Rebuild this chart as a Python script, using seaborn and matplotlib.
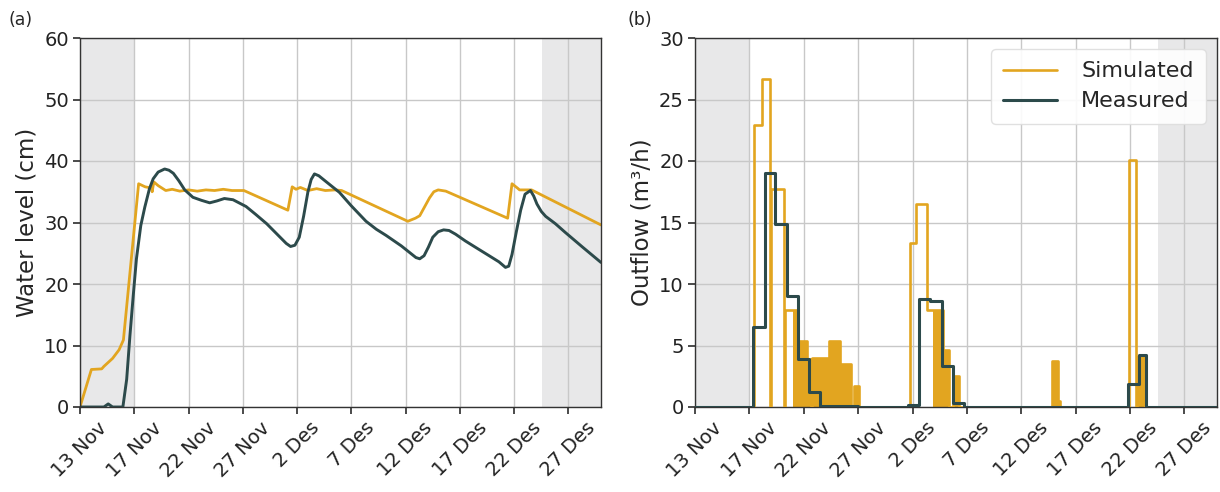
import numpy as np
import pandas as pd
import matplotlib
matplotlib.use("Agg")
import matplotlib.pyplot as plt
import seaborn as sns

# ---- axis labels -----------------------------------------------------------
tick_days = [0, 5, 10, 15, 20, 25, 30, 35, 40, 45]
tick_labels = ["13 Nov", "17 Nov", "22 Nov", "27 Nov", "2 Des",
               "7 Des", "12 Des", "17 Des", "22 Des", "27 Des"]
day_max = 48.0
spinup_end = 5.0          # grey band at the start
spindown_start = 42.6     # grey band at the end

# ---- (a) water level, simulated ------------------------------------------
sim_level_day = [0, 1.05, 2.0, 2.2, 3.0, 3.6, 4.0, 5.4, 6.0, 6.6, 6.65, 6.8,
                 7.2, 7.9, 8.5, 9.2, 10.0, 10.8, 11.6, 12.4, 13.2, 14.0, 15.1,
                 19.15, 19.55, 19.9, 20.3, 21.0, 21.8, 22.6, 23.5, 24.1,
                 30.2, 30.9, 31.3, 32.2, 32.6, 33.0, 33.7, 39.4, 39.8, 40.3,
                 40.5, 41.6, 48.0]
sim_level = [0, 6.1, 6.2, 6.6, 7.9, 9.3, 10.9, 36.3, 35.8, 35.6, 35.0, 36.6,
             36.0, 35.2, 35.4, 35.1, 35.3, 35.1, 35.3, 35.2, 35.4, 35.2, 35.2,
             32.0, 35.8, 35.4, 35.7, 35.2, 35.5, 35.2, 35.3, 35.2,
             30.2, 30.7, 31.1, 34.0, 35.0, 35.3, 35.1, 30.7, 36.3, 35.6,
             35.3, 35.3, 29.6]

# ---- (a) water level, measured -------------------------------------------
meas_level_day = [0, 2.2, 2.6, 3.0, 3.95, 4.3, 4.6, 4.9, 5.2, 5.6, 5.97, 6.4,
                  6.74, 7.2, 7.8, 8.2, 8.6, 9.1, 9.65, 10.4, 11.2, 11.95, 12.6,
                  13.3, 14.1, 15.3, 16.2, 17.2, 18.1, 19.0, 19.4, 19.8, 20.2,
                  20.6, 21.0, 21.3, 21.6, 22.0, 22.7, 23.9, 25.0, 26.35, 27.3,
                  28.2, 29.6, 30.95, 31.3, 31.7, 32.1, 32.5, 33.0, 33.5, 34.0,
                  34.6, 35.5, 36.5, 37.6, 38.6, 39.2, 39.5, 39.8, 40.2, 40.6,
                  41.0, 41.5, 41.8, 42.1, 42.5, 42.9, 43.8, 44.7, 46.3, 48.0]
meas_level = [0, 0, 0.5, 0, 0, 4.5, 11.6, 18.0, 24.1, 29.5, 32.5, 35.5,
              37.1, 38.2, 38.7, 38.5, 38.0, 36.8, 35.3, 34.1, 33.6, 33.2, 33.5,
              33.9, 33.7, 32.6, 31.3, 29.8, 28.2, 26.6, 26.1, 26.3, 27.6,
              31.0, 35.0, 37.0, 37.9, 37.6, 36.6, 34.9, 32.7, 30.2, 28.9,
              27.9, 26.2, 24.3, 24.1, 24.6, 26.0, 27.6, 28.5, 28.8, 28.7,
              28.1, 27.0, 25.9, 24.7, 23.6, 22.7, 22.9, 24.8, 28.5, 32.0,
              34.6, 35.2, 34.3, 33.0, 31.8, 31.0, 29.8, 28.4, 26.0, 23.5]

# ---- (b) outflow, simulated blocks (start, end, rate, pulsed) ------------
sim_start = [5.43, 6.15, 7.0, 8.25, 9.05, 9.35, 10.3, 10.75, 12.3, 13.35,
             14.6, 19.8, 20.35, 21.3, 21.9, 22.8, 23.7, 32.85, 33.4, 39.9,
             40.65]
sim_end = [6.15, 6.93, 8.2, 9.05, 9.35, 10.3, 10.7, 12.3, 13.35, 14.3,
           15.1, 20.35, 21.3, 21.9, 22.8, 23.4, 24.3, 33.4, 33.55, 40.55,
           41.4]
sim_rate = [22.9, 26.7, 17.7, 7.9, 7.9, 5.4, 3.9, 4.0, 5.4, 3.5,
            1.7, 13.3, 16.5, 7.9, 7.9, 4.6, 2.5, 3.7, 0.5, 20.1,
            4.1]
sim_pulsed = [False, False, False, False, True, True, True, True, True, True,
              True, False, False, False, True, True, True, True, True, False,
              True]

# ---- (b) outflow, measured step series -----------------------------------
meas_flow_day = [0, 5.35, 6.4, 7.4, 8.45, 9.45, 10.5, 11.5, 15.0, 19.6, 20.6,
                 21.6, 22.7, 23.75, 24.7, 39.8, 40.8, 41.5, 48.0]
meas_flow = [0, 6.5, 19.0, 14.9, 9.0, 3.9, 1.2, 0.1, 0, 0.2, 8.8,
             8.6, 3.3, 0.3, 0, 1.9, 4.2, 0, 0]

GOLD = "#E2A520"
DARK = "#2C4A4B"
SHADE = "#E8E8E9"

sns.set_theme(style="whitegrid")
plt.rcParams.update({
    "font.family": ["DejaVu Sans"],
    "axes.edgecolor": "#333333",
    "axes.linewidth": 1.0,
    "grid.color": "#c8c8c8",
    "grid.linewidth": 1.0,
    "xtick.bottom": True,
    "ytick.left": True,
    "xtick.major.size": 5,
    "ytick.major.size": 5,
    "xtick.color": "#333333",
    "ytick.color": "#333333",
    "xtick.labelcolor": "#222222",
    "ytick.labelcolor": "#222222",
})

fig = plt.figure(figsize=(12.2, 4.92), dpi=100)
ax_a = fig.add_axes([80 / 1220, 85 / 492, 521 / 1220, 369 / 492])
ax_b = fig.add_axes([695 / 1220, 85 / 492, 522 / 1220, 369 / 492])


def frame(ax):
    ax.set_axisbelow(True)
    ax.axvspan(0, spinup_end, color=SHADE, zorder=0.2, lw=0)
    ax.axvspan(spindown_start, day_max, color=SHADE, zorder=0.2, lw=0)
    ax.set_xlim(0, day_max)
    ax.set_xticks(tick_days)
    ax.set_xticklabels(tick_labels, rotation=45, fontsize=14)
    ax.tick_params(axis="y", labelsize=14)
    ax.tick_params(axis="both", pad=3)
    for s in ax.spines.values():
        s.set_visible(True)
        s.set_color("#333333")
    ax.grid(True)


# (a) water level
frame(ax_a)
level_sim = pd.DataFrame({"day": sim_level_day, "level": sim_level})
level_meas = pd.DataFrame({"day": meas_level_day, "level": meas_level})
sns.lineplot(data=level_sim, x="day", y="level", color=GOLD, lw=2.0,
             estimator=None, sort=False, ax=ax_a)
sns.lineplot(data=level_meas, x="day", y="level", color=DARK, lw=2.1,
             estimator=None, sort=False, ax=ax_a)
ax_a.set_ylim(0, 60)
ax_a.set_yticks(range(0, 61, 10))
ax_a.set_xlabel("")
ax_a.set_ylabel("Water level (cm)", fontsize=16.5)

# (b) outflow
frame(ax_b)
step_x, step_y = [0.0], [0.0]
for i, (s, e, q) in enumerate(zip(sim_start, sim_end, sim_rate)):
    step_x.append(s)
    step_y.append(q)
    nxt = sim_start[i + 1] if i + 1 < len(sim_start) else None
    if nxt is None or nxt > e + 1e-9:
        step_x.append(e)
        step_y.append(0.0)
step_x.append(day_max)
step_y.append(0.0)
flow_sim = pd.DataFrame({"day": step_x, "flow": step_y})

for s, e, q, pulsed in zip(sim_start, sim_end, sim_rate, sim_pulsed):
    if pulsed:
        ax_b.fill_between([s, e], [q, q], step="post", color=GOLD, lw=0,
                          zorder=2)

sns.lineplot(data=flow_sim, x="day", y="flow", color=GOLD, lw=1.9,
             drawstyle="steps-post", estimator=None, sort=False,
             label="Simulated", ax=ax_b, zorder=3)
flow_meas = pd.DataFrame({"day": meas_flow_day, "flow": meas_flow})
sns.lineplot(data=flow_meas, x="day", y="flow", color=DARK, lw=2.2,
             drawstyle="steps-post", estimator=None, sort=False,
             label="Measured", ax=ax_b, zorder=4)
ax_b.set_ylim(0, 30)
ax_b.set_yticks(range(0, 31, 5))
ax_b.set_xlabel("")
ax_b.set_ylabel("Outflow (m³/h)", fontsize=16.5)
leg = ax_b.legend(loc="upper right", fontsize=16, frameon=True,
                  handlelength=2.4, borderpad=0.55, labelspacing=0.45,
                  handletextpad=1.1, borderaxespad=0.5)
leg.get_frame().set_edgecolor("#dddddd")
leg.get_frame().set_alpha(0.9)

fig.text(8 / 1220, 1 - 20 / 492, "(a)", fontsize=12.5, va="center")
fig.text(627 / 1220, 1 - 20 / 492, "(b)", fontsize=12.5, va="center")

fig.savefig("out.png", dpi=100, facecolor="white")
